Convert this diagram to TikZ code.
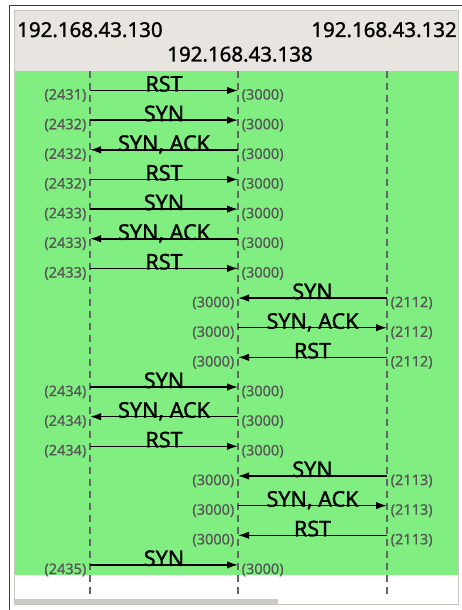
\documentclass[tikz,border=0pt]{standalone}
\usepackage{fontspec}
\setmainfont{Noto Sans}
\newfontfamily\heavyfont[FakeBold=1.2]{Noto Sans}
\newfontfamily\portfont[FakeBold=0.5]{Noto Sans}
\usetikzlibrary{arrows.meta}
\definecolor{flowgreen}{RGB}{128,238,128}
\definecolor{hdrbg}{RGB}{232,228,223}
\definecolor{lifegray}{RGB}{100,100,100}
\definecolor{portgray}{RGB}{85,85,85}
\definecolor{framedark}{RGB}{60,60,60}
\definecolor{framelight}{RGB}{200,196,192}
\definecolor{scrollgray}{RGB}{205,201,196}
\begin{document}
\begin{tikzpicture}[x=1pt,y=-1pt,
  lifeline/.style={draw=lifegray, line width=2.3pt, dash pattern=on 7pt off 5pt},
  msg/.style={draw=black, line width=1.5pt, -{Latex[length=11pt,width=7.5pt]}},
  msglabel/.style={anchor=base, inner sep=0pt, font=\heavyfont\fontsize{21.5}{23}\selectfont, yshift=-1pt},
  port/.style={inner sep=0pt, text=portgray, font=\portfont\fontsize{14.5}{16}\selectfont},
  host/.style={anchor=base, inner sep=0pt, font=\heavyfont\fontsize{20.5}{22}\selectfont}]
\useasboundingbox (0,0) rectangle (462,610);
\fill[white] (0,0) rectangle (462,610);
% frame
\draw[framedark, line width=1.2pt] (9.5,610) -- (9.5,5.5) -- (462,5.5);
\draw[framelight, fill=white, line width=1pt] (14.5,11) rectangle (458.5,604.5);
\fill[hdrbg] (15,11.5) rectangle (458,71);
\fill[flowgreen] (15,71) rectangle (458,575);
\fill[scrollgray] (15,599) rectangle (278,604);
% hosts
\node[host, anchor=base west] (h1) at (17,37) {192.168.43.130};
\node[host, anchor=base east] (h3) at (457,37) {192.168.43.132};
\node[host] (h2) at (240,61.5) {192.168.43.138};
% lifelines
\coordinate (aT) at (90,71);  \coordinate (aB) at (90,599);
\coordinate (bT) at (238,71); \coordinate (bB) at (238,599);
\coordinate (cT) at (387,71); \coordinate (cB) at (387,599);
\draw[lifeline] (aT) -- (aB);
\draw[lifeline] (bT) -- (bB);
\draw[lifeline] (cT) -- (cB);
% messages
\foreach \mr/\ms/\mt/\mL/\mR/\mlab/\mpl/\mpr in {
  1/a/b/a/b/RST/2431/3000,
  2/a/b/a/b/SYN/2432/3000,
  3/b/a/a/b/{SYN, ACK}/2432/3000,
  4/a/b/a/b/RST/2432/3000,
  5/a/b/a/b/SYN/2433/3000,
  6/b/a/a/b/{SYN, ACK}/2433/3000,
  7/a/b/a/b/RST/2433/3000,
  8/c/b/b/c/SYN/3000/2112,
  9/b/c/b/c/{SYN, ACK}/3000/2112,
  10/c/b/b/c/RST/3000/2112,
  11/a/b/a/b/SYN/2434/3000,
  12/b/a/a/b/{SYN, ACK}/2434/3000,
  13/a/b/a/b/RST/2434/3000,
  14/c/b/b/c/SYN/3000/2113,
  15/b/c/b/c/{SYN, ACK}/3000/2113,
  16/c/b/b/c/RST/3000/2113,
  17/a/b/a/b/SYN/2435/3000}{
  \pgfmathsetmacro\yy{90.5+29.65*(\mr-1)}
  \coordinate (a\mr) at (90,\yy);
  \coordinate (b\mr) at (238,\yy);
  \coordinate (c\mr) at (387,\yy);
  \draw[msg] (\ms\mr) -- node[msglabel] (lab\mr) {\mlab} (\mt\mr);
  \node[port, anchor=east] (pl\mr) at ([xshift=-3.5pt, yshift=-5pt]\mL\mr) {(\mpl)};
  \node[port, anchor=west] (pr\mr) at ([xshift=3.5pt, yshift=-5pt]\mR\mr) {(\mpr)};
}
\end{tikzpicture}
\end{document}
